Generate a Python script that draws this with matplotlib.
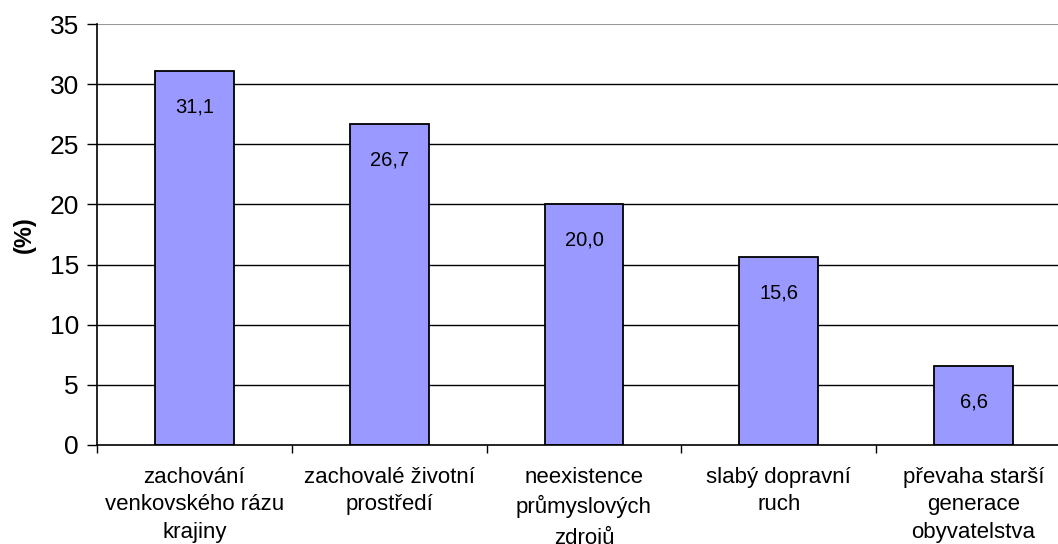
import matplotlib
matplotlib.use("Agg")
import matplotlib.pyplot as plt

categories = ["zachování\nvenkovského rázu\nkrajiny", "zachovalé životní\nprostředí",
              "neexistence\nprůmyslových\nzdrojů", "slabý dopravní\nruch",
              "převaha starší\ngenerace\nobyvatelstva"]
values = [31.1, 26.7, 20.0, 15.6, 6.6]
value_labels = ["31,1", "26,7", "20,0", "15,6", "6,6"]

plt.rcParams['font.family'] = ['Liberation Sans', 'DejaVu Sans']
fig = plt.figure(figsize=(10.58, 5.44), dpi=100)
ax = fig.add_axes([97/1058, 1-445/544, (1071-97)/1058, (445-24)/544])

x = list(range(len(values)))
ax.set_axisbelow(True)
for yv in range(5, 35, 5):
    ax.axhline(yv, color='black', lw=1, zorder=0)
ax.axhline(35, color='#999999', lw=1.5, zorder=0)
bars = ax.bar(x, values, width=0.405, color='#9999FF', edgecolor='black', lw=1.3, zorder=2)
for xi, v, lab in zip(x, values, value_labels):
    ax.annotate(lab, (xi, v), xytext=(0, -19), textcoords='offset points',
                ha='center', va='top', fontsize=14.5, zorder=3)

ax.set_xlim(-0.5, 4.5)
ax.set_ylim(0, 35)
ax.set_yticks(range(0, 36, 5))
ax.set_yticklabels([str(v) for v in range(0, 36, 5)], fontsize=19)
ax.set_xticks([i + 0.5 for i in range(-1, 5)])
ax.set_xticklabels([])
ax.set_xticks(x, minor=True)
ax.set_xticklabels(categories, minor=True, fontsize=16, linespacing=1.42)
ax.tick_params(axis='x', which='minor', length=0, pad=15.5)
ax.tick_params(axis='x', which='major', length=6, direction='out', width=1)
ax.tick_params(axis='y', length=7, width=1, pad=6)
for s in ['top', 'right']:
    ax.spines[s].set_visible(False)
ax.spines['left'].set_linewidth(1.2)
ax.spines['bottom'].set_linewidth(1.2)
ax.set_ylabel("(%)", fontsize=17, fontweight='bold', labelpad=10)

fig.savefig("out.png", dpi=100)
